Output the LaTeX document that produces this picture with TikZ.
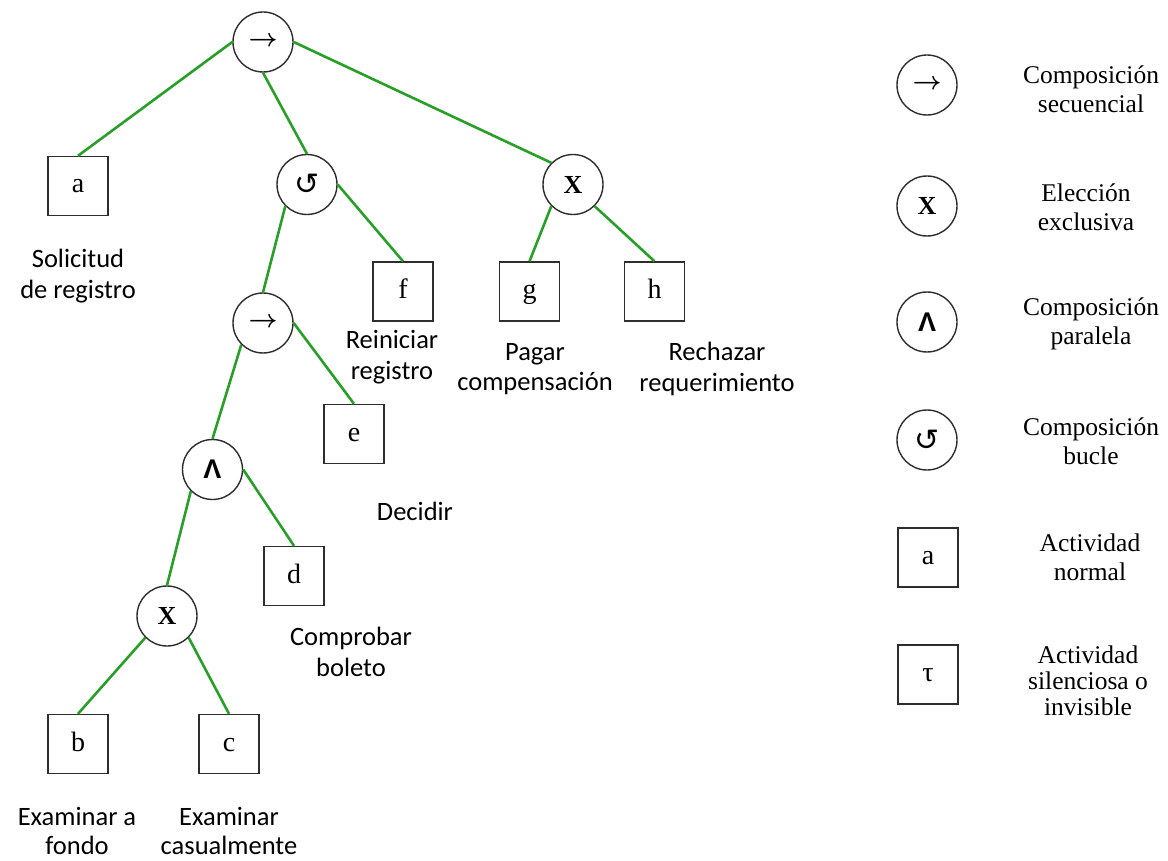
\documentclass[tikz,border=0pt]{standalone}
\usepackage{fontspec}
\usepackage{graphicx}
\setmainfont{Liberation Serif}
\newfontfamily\labfont{Carlito}
\newfontfamily\symfont{DejaVu Sans}
\newfontfamily\lsans{Liberation Sans}
\definecolor{edgegreen}{RGB}{40,160,40}
\definecolor{bordergray}{RGB}{45,45,45}
\newcommand{\seqarrow}{\resizebox{29pt}{!}{$\boldsymbol{\rightarrow}$}}
\usepackage{amsmath}
\begin{document}
\begin{tikzpicture}[x=1pt,y=-1pt,
  opnode/.style={circle,draw=bordergray,line width=1.4pt,minimum size=60pt,inner sep=0pt,fill=white},
  actnode/.style={rectangle,draw=bordergray,line width=1.4pt,minimum width=60pt,minimum height=59pt,inner sep=0pt,text height=14pt,text depth=0pt,font=\fontsize{28}{30}\selectfont},
  lbl/.style={align=center,inner sep=0pt,font=\labfont\fontsize{26.5}{30.5}\selectfont},
  leg/.style={align=center,inner sep=0pt,font=\fontsize{25.5}{29}\selectfont},
  edge/.style={draw=edgegreen,line width=2.6pt},
  seqsym/.style={},
  xsym/.style={font=\fontsize{26}{26}\selectfont\bfseries},
  andsym/.style={font=\lsans\fontsize{27}{27}\selectfont\bfseries},
  loopsym/.style={font=\symfont\fontsize{30}{30}\selectfont}
]
\useasboundingbox (0,0) rectangle (1168,861);
\fill[white] (0,0) rectangle (1168,861);

% tree nodes
\node[opnode,seqsym] (root) at (263,42) {\seqarrow};
\node[actnode] (a) at (78,186) {a};
\node[opnode,loopsym] (loop) at (307,184.5) {↺};
\node[opnode,xsym] (x1) at (573,184.5) {X};
\node[actnode] (f) at (403,291.5) {f};
\node[actnode] (g) at (529.5,291.5) {g};
\node[actnode] (h) at (654.5,291.5) {h};
\node[opnode,seqsym] (seq2) at (263,323) {\seqarrow};
\node[actnode] (e) at (354,434) {e};
\node[opnode,andsym] (and) at (212.5,469.5) {Λ};
\node[actnode] (d) at (294,576) {d};
\node[opnode,xsym] (x2) at (167,616) {X};
\node[actnode] (b) at (78,744) {b};
\node[actnode] (c) at (229,744) {c};

% connectors
\draw[edge] (root.west) -- (a.north);
\draw[edge] (root.south) -- (loop.north);
\draw[edge] (root.east) -- (x1.north west);
\draw[edge] (loop.south west) -- (seq2.north);
\draw[edge] (loop.east) -- (f.north);
\draw[edge] (x1.south west) -- (g.north);
\draw[edge] (x1.south east) -- (h.north);
\draw[edge] (seq2.south west) -- (and.north);
\draw[edge] (seq2.east) -- (e.north);
\draw[edge] (and.south west) -- (x2.north);
\draw[edge] (and.east) -- (d.north);
\draw[edge] (x2.south west) -- (b.north);
\draw[edge] (x2.south east) -- (c.north);

% labels
\node[lbl] (la) at (78,276) {Solicitud\\de registro};
\node[lbl] (lf) at (392,357) {Reiniciar\\registro};
\node[lbl] (lg) at (535,369) {Pagar\\compensación};
\node[lbl] (lh) at (717,369) {Rechazar\\requerimiento};
\node[lbl] (le) at (415,511) {Decidir};
\node[lbl] (ld) at (351,652) {Comprobar\\boleto};
\node[lbl,font=\labfont\fontsize{26.5}{29.5}\selectfont] (lb) at (77,831) {Examinar a\\fondo};
\node[lbl,font=\labfont\fontsize{26.5}{29.5}\selectfont] (lc) at (229,831) {Examinar\\casualmente};

% legend
\node[opnode,seqsym] (kseq) at (927,85) {\seqarrow};
\node[leg] (tseq) at (1091,89) {Composición\\secuencial};
\node[opnode,xsym] (kx) at (927,206) {X};
\node[leg] (tx) at (1086,207) {Elección\\exclusiva};
\node[opnode,andsym] (kand) at (927,322) {Λ};
\node[leg] (tand) at (1091,324) {Composición\\paralela};
\node[opnode,loopsym] (kloop) at (927,440) {↺};
\node[leg] (tloop) at (1091,441) {Composición\\bucle};
\node[actnode] (kact) at (928,557.5) {a};
\node[leg] (tact) at (1090,557) {Actividad\\normal};
\node[actnode] (ktau) at (928,674.5) {τ};
\node[leg,font=\fontsize{25.5}{26}\selectfont] (ttau) at (1088,681) {Actividad\\silenciosa o\\invisible};
\end{tikzpicture}
\end{document}
